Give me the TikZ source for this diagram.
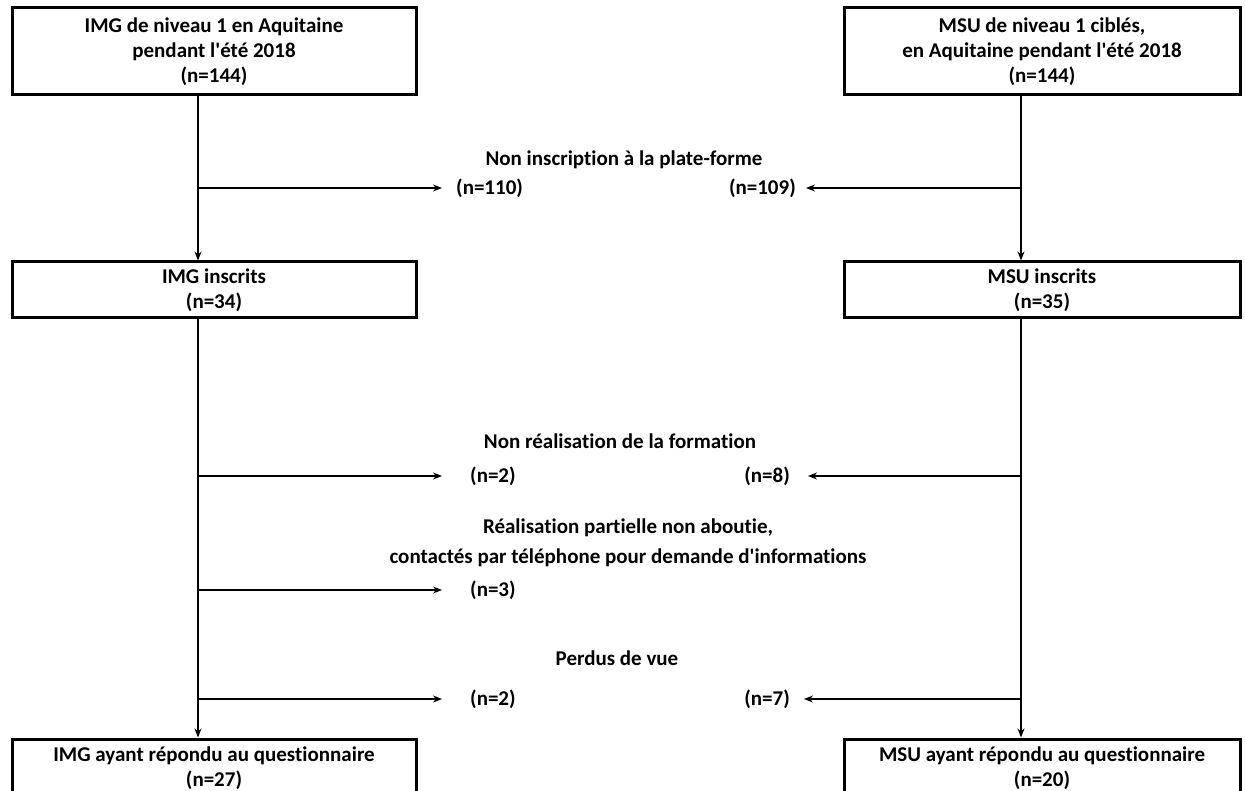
\documentclass[tikz,border=0pt]{standalone}
\usepackage{fontspec}
\newfontfamily\calibri{Carlito}[Ligatures=NoCommon]
\usetikzlibrary{arrows.meta}

\begin{document}
\begin{tikzpicture}[x=1pt, y=-1pt, align=center, font=\calibri\bfseries\fontsize{21}{25}\selectfont,
  box/.style={draw, line width=3pt, minimum width=404pt, inner sep=0pt},
  lien/.style={line width=1.3pt},
  fleche/.style={lien, -{Stealth[length=9pt, width=7pt]}},
  effectif/.style={inner sep=0pt}]
\useasboundingbox (0,0) rectangle (1245,791);

% boites
\node[box, minimum height=87pt] (imgA) at (214,51.5) {IMG de niveau 1 en Aquitaine\\ pendant l'été 2018\\ (n=144)};
\node[box, minimum height=87pt, minimum width=396pt] (msuA) at (1042,51.5) {MSU de niveau 1 ciblés,\\ en Aquitaine pendant l'été 2018\\ (n=144)};
\node[box, minimum height=56pt] (imgB) at (214,290) {IMG inscrits\\ (n=34)};
\node[box, minimum height=56pt, minimum width=396pt] (msuB) at (1042,290) {MSU inscrits\\ (n=35)};
\node[box, minimum height=58pt] (imgC) at (214,768) {IMG ayant répondu au questionnaire\\ (n=27)};
\node[box, minimum height=58pt, minimum width=396pt] (msuC) at (1042,768) {MSU ayant répondu au questionnaire\\ (n=20)};

% textes du milieu
\node (t1) at (624,160) {Non inscription à la plate-forme};
\node[effectif, anchor=west] (n110) at (456,188) {(n=110)};
\node[effectif, anchor=east] (n109) at (796,188) {(n=109)};

\node (t2) at (620,441) {Non réalisation de la formation};
\node[effectif, anchor=west] (n2a) at (470,476) {(n=2)};
\node[effectif, anchor=east] (n8) at (790,476) {(n=8)};

\node (t3) at (628,543) {Réalisation partielle non aboutie,\\[5pt] contactés par téléphone pour demande d'informations};
\node[effectif, anchor=west] (n3) at (470,590) {(n=3)};

\node (t4) at (617,658) {Perdus de vue};
\node[effectif, anchor=west] (n2b) at (470,699) {(n=2)};
\node[effectif, anchor=east] (n7) at (790,699) {(n=7)};

% axes verticaux
\coordinate (gA) at ([xshift=-16pt]imgA.south);
\coordinate (gB) at ([xshift=-16pt]imgB.north);
\coordinate (gC) at ([xshift=-16pt]imgB.south);
\coordinate (gD) at ([xshift=-16pt]imgC.north);
\coordinate (dA) at ([xshift=-21pt]msuA.south);
\coordinate (dB) at ([xshift=-21pt]msuB.north);
\coordinate (dC) at ([xshift=-21pt]msuB.south);
\coordinate (dD) at ([xshift=-21pt]msuC.north);

\draw[fleche] (gA) -- (gB);
\draw[fleche] (dA) -- (dB);
\draw[fleche] (gC) -- (gD);
\draw[fleche] (dC) -- (dD);

% sorties
\draw[fleche, shorten >=14pt] (gA |- n110.west) -- (n110.west);
\draw[fleche, shorten >=10pt] (dA |- n109.east) -- (n109.east);
\draw[fleche, shorten >=28pt] (gC |- n2a.west) -- (n2a.west);
\draw[fleche, shorten >=18pt] (dC |- n8.east) -- (n8.east);
\draw[fleche, shorten >=28pt] (gC |- n3.west) -- (n3.west);
\draw[fleche, shorten >=28pt] (gC |- n2b.west) -- (n2b.west);
\draw[fleche, shorten >=14pt] (dC |- n7.east) -- (n7.east);
\end{tikzpicture}
\end{document}
